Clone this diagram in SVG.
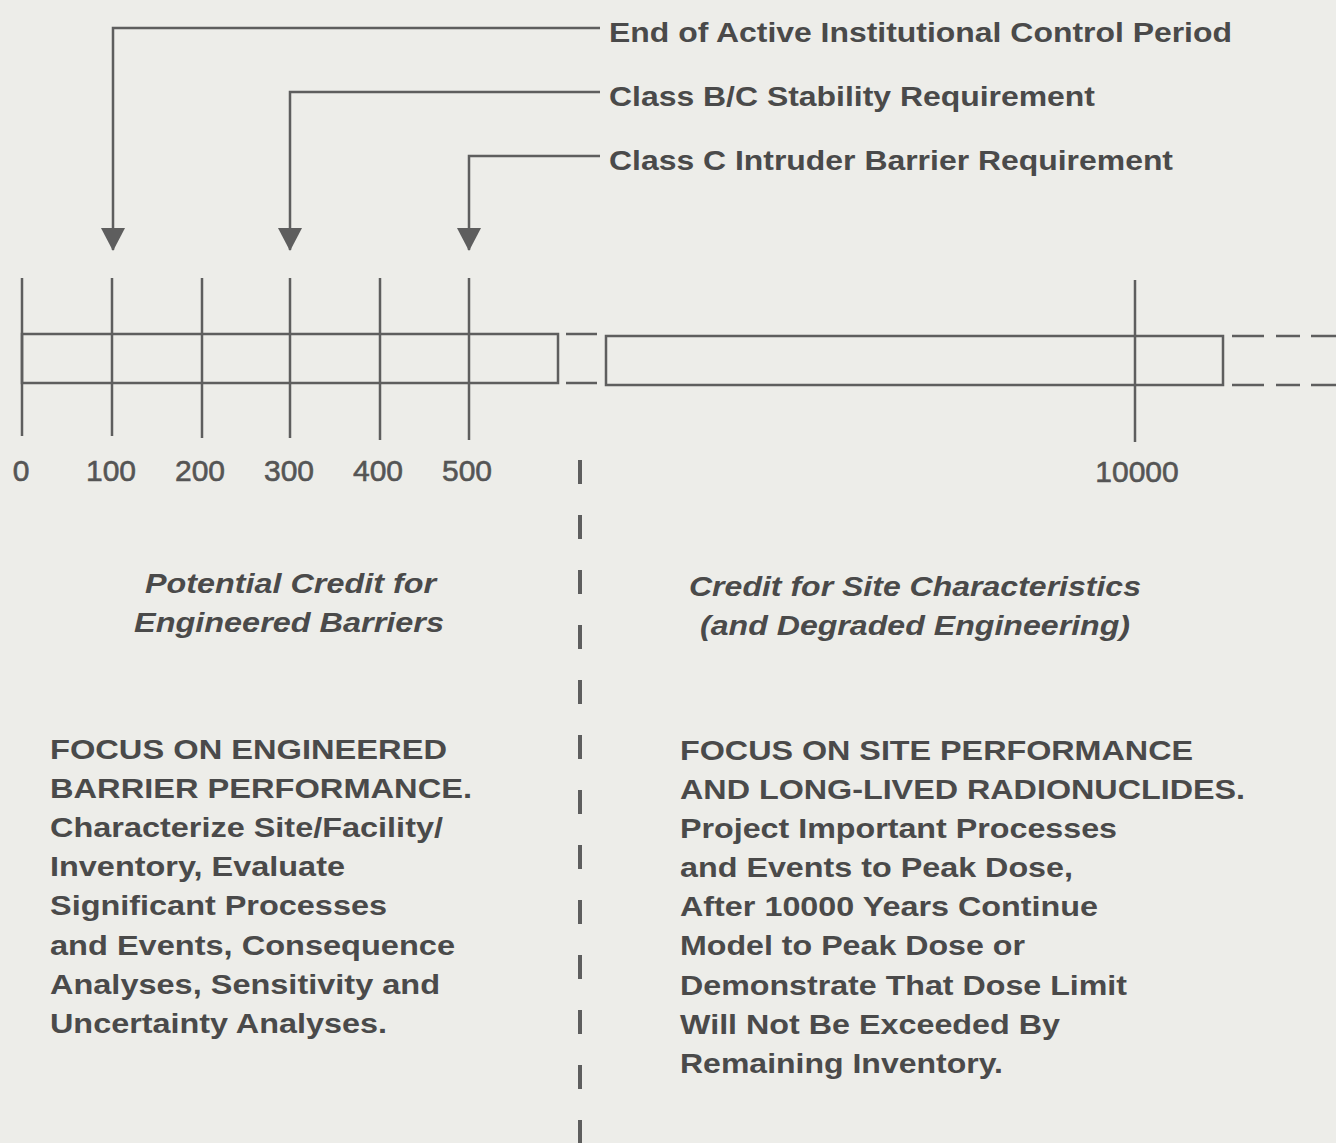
<svg xmlns="http://www.w3.org/2000/svg" width="1336" height="1143" viewBox="0 0 1336 1143">
<defs>
<style>
.ln{stroke:#5e5e5e;stroke-width:2.5;fill:none}
.dash{stroke:#5e5e5e;stroke-width:2.5}
.t{font-family:"Liberation Sans",Arial,sans-serif;font-weight:bold;fill:#4a4a4a}
.lab{font-size:27px}
.num{font-size:30px;font-weight:normal;text-anchor:middle;fill:#555;stroke:#555;stroke-width:0.6}
.it{font-size:28px;font-style:italic}
.body{font-size:28px}
</style>
</defs>
<rect width="1336" height="1143" fill="#edede9"/>
<g id="connectors">
<path class="ln" d="M600,28 H113 V250" />
<path d="M101,228 L125,228 L113,251 Z" fill="#5e5e5e"/>
<path class="ln" d="M600,92 H290 V250" />
<path d="M278,228 L302,228 L290,251 Z" fill="#5e5e5e"/>
<path class="ln" d="M600,156 H469 V250" />
<path d="M457,228 L481,228 L469,251 Z" fill="#5e5e5e"/>
</g>
<g id="label-end">
<text class="t lab" x="609" y="42" textLength="623" lengthAdjust="spacingAndGlyphs">End of Active Institutional Control Period</text>
</g>
<g id="label-bc">
<text class="t lab" x="609" y="106" textLength="486" lengthAdjust="spacingAndGlyphs">Class B/C Stability Requirement</text>
</g>
<g id="label-c">
<text class="t lab" x="609" y="170" textLength="564" lengthAdjust="spacingAndGlyphs">Class C Intruder Barrier Requirement</text>
</g>
<g id="timeline">
<rect class="ln" x="22" y="334" width="536" height="49"/>
<line class="dash" x1="566" y1="334" x2="597" y2="334"/>
<line class="dash" x1="566" y1="383" x2="597" y2="383"/>
<rect class="ln" x="606" y="336" width="617" height="49"/>
<line class="dash" x1="1232" y1="336" x2="1264" y2="336"/>
<line class="dash" x1="1276" y1="336" x2="1300" y2="336"/>
<line class="dash" x1="1311" y1="336" x2="1336" y2="336"/>
<line class="dash" x1="1232" y1="385" x2="1264" y2="385"/>
<line class="dash" x1="1276" y1="385" x2="1300" y2="385"/>
<line class="dash" x1="1311" y1="385" x2="1336" y2="385"/>
<line class="ln" x1="22" y1="278" x2="22" y2="436"/>
<line class="ln" x1="112" y1="278" x2="112" y2="436"/>
<line class="ln" x1="202" y1="278" x2="202" y2="438"/>
<line class="ln" x1="290" y1="278" x2="290" y2="438"/>
<line class="ln" x1="380" y1="278" x2="380" y2="440"/>
<line class="ln" x1="469" y1="278" x2="469" y2="440"/>
<line class="ln" x1="1135" y1="280" x2="1135" y2="442"/>
<text class="t num" x="21" y="481">0</text>
<text class="t num" x="111" y="481">100</text>
<text class="t num" x="200" y="481">200</text>
<text class="t num" x="289" y="481">300</text>
<text class="t num" x="378" y="481">400</text>
<text class="t num" x="467" y="481">500</text>
<text class="t num" x="1137" y="482">10000</text>
</g>
<g id="divider">
<line x1="580" y1="460" x2="580" y2="1143" stroke="#5e5e5e" stroke-width="4" stroke-dasharray="24 31"/>
</g>
<g id="left-heading">
<text class="t it" x="145" y="593" textLength="291" lengthAdjust="spacingAndGlyphs">Potential Credit for</text>
<text class="t it" x="134" y="632" textLength="310" lengthAdjust="spacingAndGlyphs">Engineered Barriers</text>
</g>
<g id="right-heading">
<text class="t it" x="689" y="596" textLength="452" lengthAdjust="spacingAndGlyphs">Credit for Site Characteristics</text>
<text class="t it" x="700" y="635" textLength="430" lengthAdjust="spacingAndGlyphs">(and Degraded Engineering)</text>
</g>
<g id="left-body">
<text class="t body" x="50" y="759" textLength="397" lengthAdjust="spacingAndGlyphs">FOCUS ON ENGINEERED</text>
<text class="t body" x="50" y="798" textLength="422" lengthAdjust="spacingAndGlyphs">BARRIER PERFORMANCE.</text>
<text class="t body" x="50" y="837" textLength="393" lengthAdjust="spacingAndGlyphs">Characterize Site/Facility/</text>
<text class="t body" x="50" y="876" textLength="295" lengthAdjust="spacingAndGlyphs">Inventory, Evaluate</text>
<text class="t body" x="50" y="915" textLength="337" lengthAdjust="spacingAndGlyphs">Significant Processes</text>
<text class="t body" x="50" y="955" textLength="405" lengthAdjust="spacingAndGlyphs">and Events, Consequence</text>
<text class="t body" x="50" y="994" textLength="390" lengthAdjust="spacingAndGlyphs">Analyses, Sensitivity and</text>
<text class="t body" x="50" y="1033" textLength="337" lengthAdjust="spacingAndGlyphs">Uncertainty Analyses.</text>
</g>
<g id="right-body">
<text class="t body" x="680" y="760" textLength="513" lengthAdjust="spacingAndGlyphs">FOCUS ON SITE PERFORMANCE</text>
<text class="t body" x="680" y="799" textLength="565" lengthAdjust="spacingAndGlyphs">AND LONG-LIVED RADIONUCLIDES.</text>
<text class="t body" x="680" y="838" textLength="437" lengthAdjust="spacingAndGlyphs">Project Important Processes</text>
<text class="t body" x="680" y="877" textLength="393" lengthAdjust="spacingAndGlyphs">and Events to Peak Dose,</text>
<text class="t body" x="680" y="916" textLength="418" lengthAdjust="spacingAndGlyphs">After 10000 Years Continue</text>
<text class="t body" x="680" y="955" textLength="345" lengthAdjust="spacingAndGlyphs">Model to Peak Dose or</text>
<text class="t body" x="680" y="995" textLength="447" lengthAdjust="spacingAndGlyphs">Demonstrate That Dose Limit</text>
<text class="t body" x="680" y="1034" textLength="380" lengthAdjust="spacingAndGlyphs">Will Not Be Exceeded By</text>
<text class="t body" x="680" y="1073" textLength="323" lengthAdjust="spacingAndGlyphs">Remaining Inventory.</text>
</g>
</svg>
